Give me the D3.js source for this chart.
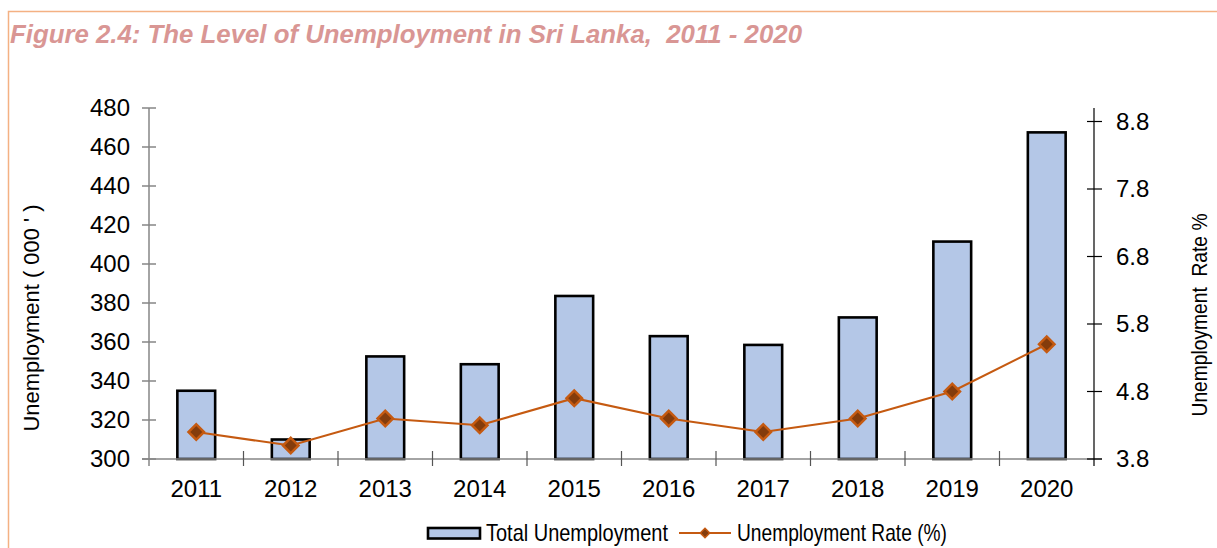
<!DOCTYPE html>
<html>
<head>
<meta charset="utf-8">
<script src="https://cdn.jsdelivr.net/npm/d3@7"></script>
<style>
  html, body { margin: 0; padding: 0; background: #ffffff; }
  svg { display: block; }
  text { font-family: "Liberation Sans", Arial, sans-serif; fill: #000; }
</style>
</head>
<body>
<script>
const years = ["2011","2012","2013","2014","2015","2016","2017","2018","2019","2020"];
const totalUnemployment = [335, 310, 352.6, 348.6, 383.6, 363, 358.5, 372.6, 411.5, 467.5];
const unemploymentRate = [4.2, 4.0, 4.4, 4.3, 4.7, 4.4, 4.2, 4.4, 4.8, 5.5];
const leftTicks = [300, 320, 340, 360, 380, 400, 420, 440, 460, 480];
const rightTicks = [3.8, 4.8, 5.8, 6.8, 7.8, 8.8];
const titleText = "Figure 2.4: The Level of Unemployment in Sri Lanka,  2011 - 2020";
const leftTitle = "Unemployment ( 000 ' )";
const rightTitle = "Unemployment  Rate %";
const legendLabels = ["Total Unemployment", "Unemployment Rate (%)"];

const W = 1217, H = 548;
const plotL = 149, plotR = 1094, plotT = 108, plotB = 459;

const svg = d3.select("body").append("svg").attr("width", W).attr("height", H);

// frame
svg.append("path")
  .attr("d", `M8.5,${H} L8.5,11.5 L${W},11.5`)
  .attr("fill", "none").attr("stroke", "#f4b183").attr("stroke-width", 1.5);

// title
svg.append("text")
  .attr("x", 10).attr("y", 43)
  .attr("font-size", 26).attr("font-weight", "bold").attr("font-style", "italic")
  .style("fill", "#d99694")
  .style("white-space", "pre")
  .attr("textLength", 792).attr("lengthAdjust", "spacingAndGlyphs")
  .text(titleText);

const x = d3.scaleBand().domain(years).range([plotL, plotR]).paddingInner(0.6).paddingOuter(0.3);
const yL = d3.scaleLinear().domain([300, 480]).range([plotB, plotT]);
const yR = d3.scaleLinear().domain([3.8, 9.0]).range([plotB, plotT]);

const fs = 24;

// bars
svg.append("g").selectAll("rect").data(years).join("rect")
  .attr("x", d => x(d))
  .attr("width", x.bandwidth())
  .attr("y", (d, i) => yL(totalUnemployment[i]))
  .attr("height", (d, i) => yL(300) - yL(totalUnemployment[i]))
  .attr("fill", "#b4c7e7").attr("stroke", "#000").attr("stroke-width", 2.6);

// left axis
const gL = svg.append("g");
gL.append("line").attr("x1", plotL).attr("x2", plotL).attr("y1", plotT).attr("y2", 466)
  .attr("stroke", "#868686").attr("stroke-width", 1.5);
gL.selectAll("line.t").data(leftTicks).join("line").attr("class", "t")
  .attr("x1", plotL - 7).attr("x2", plotL + 7)
  .attr("y1", d => yL(d)).attr("y2", d => yL(d))
  .attr("stroke", "#868686").attr("stroke-width", 1.5);
gL.selectAll("text").data(leftTicks).join("text")
  .attr("x", 130).attr("y", d => yL(d)).attr("dy", "0.35em")
  .attr("text-anchor", "end").attr("font-size", fs)
  .text(d => d);

// x axis
const gX = svg.append("g");
gX.append("line").attr("x1", 142).attr("x2", 1102).attr("y1", plotB).attr("y2", plotB)
  .attr("stroke", "#868686").attr("stroke-width", 1.5);
const bounds = years.slice(1).map(d => x(d) - x.step() * x.paddingInner() / 2);
gX.selectAll("line.t").data(bounds).join("line").attr("class", "t")
  .attr("x1", d => d).attr("x2", d => d).attr("y1", plotB - 8).attr("y2", plotB + 7)
  .attr("stroke", "#555").attr("stroke-width", 1.2);
gX.selectAll("text").data(years).join("text")
  .attr("x", d => x(d) + x.bandwidth() / 2).attr("y", 497)
  .attr("text-anchor", "middle").attr("font-size", fs)
  .text(d => d);

// right axis
const gR = svg.append("g");
gR.append("line").attr("x1", plotR).attr("x2", plotR).attr("y1", plotT).attr("y2", 466)
  .attr("stroke", "#000").attr("stroke-width", 1.2);
gR.selectAll("line.t").data(rightTicks).join("line").attr("class", "t")
  .attr("x1", plotR - 7).attr("x2", plotR + 8)
  .attr("y1", d => yR(d)).attr("y2", d => yR(d))
  .attr("stroke", "#000").attr("stroke-width", 1.2);
gR.selectAll("text").data(rightTicks).join("text")
  .attr("x", 1116).attr("y", d => yR(d)).attr("dy", "0.35em")
  .attr("text-anchor", "start").attr("font-size", fs)
  .text(d => d.toFixed(1));

// axis titles
svg.append("text")
  .attr("transform", `translate(39,318) rotate(-90)`)
  .attr("text-anchor", "middle").attr("font-size", 22)
  .style("white-space", "pre")
  .attr("textLength", 227).attr("lengthAdjust", "spacingAndGlyphs")
  .text(leftTitle);
svg.append("text")
  .attr("transform", `translate(1207,315) rotate(-90)`)
  .attr("text-anchor", "middle").attr("font-size", 22)
  .style("white-space", "pre")
  .attr("textLength", 203).attr("lengthAdjust", "spacingAndGlyphs")
  .text(rightTitle);

// line
const line = d3.line().x((d, i) => x(years[i]) + x.bandwidth() / 2).y(d => yR(d));
svg.append("path").datum(unemploymentRate)
  .attr("d", line).attr("fill", "none").attr("stroke", "#c55a11").attr("stroke-width", 2.2);

const diamond = d3.symbol().type(d3.symbolSquare).size(120);
svg.append("g").selectAll("path").data(unemploymentRate).join("path")
  .attr("d", diamond)
  .attr("transform", (d, i) => `translate(${x(years[i]) + x.bandwidth() / 2},${yR(d)}) rotate(45)`)
  .attr("fill", "#843c0c").attr("stroke", "#c55a11").attr("stroke-width", 2.5);

// legend
const lg = svg.append("g");
const ly = 533;
lg.append("rect").attr("x", 428).attr("y", ly - 5).attr("width", 52).attr("height", 10.5)
  .attr("fill", "#b4c7e7").attr("stroke", "#000").attr("stroke-width", 2.6);
lg.append("text").attr("x", 486).attr("y", ly).attr("dy", "0.35em").attr("font-size", fs)
  .attr("textLength", 182).attr("lengthAdjust", "spacingAndGlyphs")
  .text(legendLabels[0]);
lg.append("line").attr("x1", 679).attr("x2", 731).attr("y1", ly).attr("y2", ly)
  .attr("stroke", "#c55a11").attr("stroke-width", 2.2);
lg.append("path").attr("d", d3.symbol().type(d3.symbolSquare).size(45))
  .attr("transform", `translate(705,${ly}) rotate(45)`)
  .attr("fill", "#843c0c").attr("stroke", "#c55a11").attr("stroke-width", 1.5);
lg.append("text").attr("x", 737).attr("y", ly).attr("dy", "0.35em").attr("font-size", fs)
  .attr("textLength", 210).attr("lengthAdjust", "spacingAndGlyphs")
  .text(legendLabels[1]);
</script>
</body>
</html>
